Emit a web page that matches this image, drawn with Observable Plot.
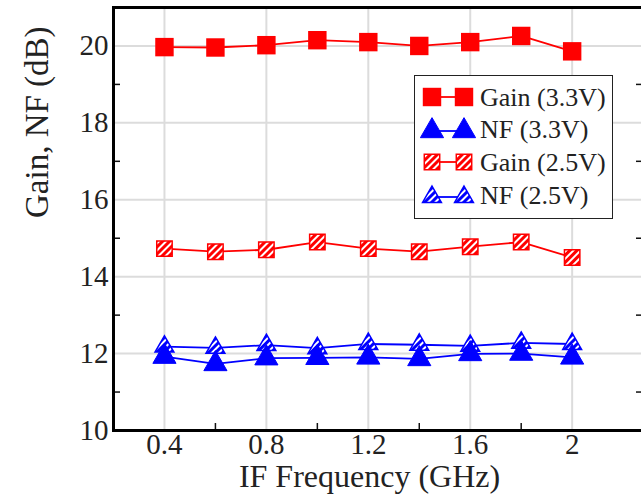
<!DOCTYPE html>
<html>
<head>
<meta charset="utf-8">
<script src="https://cdn.jsdelivr.net/npm/d3@7"></script>
<script src="https://cdn.jsdelivr.net/npm/@observablehq/plot@0.6"></script>
<style>
  html, body { margin: 0; padding: 0; background: white; }
  #wrap { position: relative; width: 641px; height: 497px; overflow: hidden; }
  #wrap svg.chart { display: block; }
  #legend { position: absolute; left: 414px; top: 75px; width: 199px; height: 144px;
            box-sizing: border-box; border: 1.5px solid #222; background: white; }
</style>
</head>
<body>
<svg width="0" height="0" style="position:absolute">
  <defs>
    <pattern id="hatchR" patternUnits="userSpaceOnUse" width="5" height="5" patternTransform="rotate(45)">
      <rect width="5" height="5" fill="#ff0000"></rect>
      <rect x="0" y="0" width="2" height="5" fill="#ffffff"></rect>
    </pattern>
    <pattern id="hatchB" patternUnits="userSpaceOnUse" width="5" height="5" patternTransform="rotate(45)">
      <rect width="5" height="5" fill="#0000ff"></rect>
      <rect x="0" y="0" width="2" height="5" fill="#ffffff"></rect>
    </pattern>
  </defs>
</svg>
<div id="wrap"></div>
<script>
// ---- data ----
const freq   = [0.4, 0.6, 0.8, 1.0, 1.2, 1.4, 1.6, 1.8, 2.0];
const gain33 = [19.97, 19.96, 20.02, 20.15, 20.10, 20.00, 20.10, 20.26, 19.86];
const nf33   = [11.92, 11.73, 11.88, 11.89, 11.90, 11.86, 11.99, 12.00, 11.90];
const gain25 = [14.73, 14.65, 14.70, 14.90, 14.73, 14.65, 14.78, 14.90, 14.50];
const nf25   = [12.18, 12.15, 12.22, 12.14, 12.25, 12.23, 12.20, 12.28, 12.25];
const seriesNames = ["Gain (3.3V)", "NF (3.3V)", "Gain (2.5V)", "NF (2.5V)"];
const xTicks = [0.4, 0.8, 1.2, 1.6, 2];
const xMinor = [0.6, 1.0, 1.4, 1.8];
const yTicks = [10, 12, 14, 16, 18, 20];
const yMinor = [11, 13, 15, 17, 19];
const xLabel = "IF Frequency (GHz)";
const yLabel = "Gain, NF (dB)";

// styles per series (draw order: hatched NF first, filled NF on top)
const series = [
  {name: seriesNames[2], values: gain25, stroke: "#ff0000", fill: "url(#hatchR)", symbol: "square",   r: 8.7, sw: 1.5},
  {name: seriesNames[0], values: gain33, stroke: "#ff0000", fill: "#ff0000",      symbol: "square",   r: 10.4, sw: 0},
  {name: seriesNames[3], values: nf25,   stroke: "#0000ff", fill: "url(#hatchB)", symbol: "triangle", r: 7.0, sw: 1.5},
  {name: seriesNames[1], values: nf33,   stroke: "#0000ff", fill: "#0000ff",      symbol: "triangle", r: 8.6, sw: 1}
];

const W = 641, H = 497, mL = 113, mR = -2, mT = 7, mB = 67;
const fw = W - mL - mR, fh = H - mT - mB, tk = 7;

const marks = [
  Plot.gridX(xTicks, {stroke: "#dcdcdc", strokeOpacity: 1, strokeWidth: 2}),
  Plot.gridY(yTicks.filter(d => d !== 10), {stroke: "#dcdcdc", strokeOpacity: 1, strokeWidth: 2}),
  Plot.tickY(yMinor, {y: d => d, stroke: "#111", strokeWidth: 1.5, insetRight: fw - tk}),
  Plot.tickY(yMinor, {y: d => d, stroke: "#111", strokeWidth: 1.5, insetLeft: fw - tk}),
  Plot.tickX(xMinor, {x: d => d, stroke: "#111", strokeWidth: 1.5, insetTop: fh - tk}),
  Plot.axisX({ticks: xTicks, tickSize: 0, tickPadding: 3, tickFormat: d => String(d), fontSize: 29, label: null}),
  Plot.axisY({ticks: yTicks, tickSize: 0, tickPadding: 5, tickFormat: d => String(d), fontSize: 29, label: null}),
  Plot.text([xLabel], {text: d => d, frameAnchor: "bottom", dy: 56, dx: -9, fontSize: 32}),
  Plot.text([yLabel], {text: d => d, frameAnchor: "left", rotate: -90, dx: -76, dy: -1, fontSize: 33})
];
for (const s of series) {
  marks.push(Plot.line(freq, {x: d => d, y: (d, i) => s.values[i], stroke: s.stroke, strokeWidth: 1.8}));
}
for (const s of series) {
  marks.push(Plot.dot(freq, {x: d => d, y: (d, i) => s.values[i], symbol: s.symbol, r: s.r,
    fill: s.fill, stroke: s.stroke, strokeWidth: s.sw}));
}
marks.push(Plot.frame({stroke: "#000", strokeWidth: 3}));

const chart = Plot.plot({
  width: W, height: H, marginLeft: mL, marginRight: mR, marginTop: mT, marginBottom: mB,
  className: "chart",
  style: {fontFamily: "'Liberation Serif', 'Times New Roman', serif", fontSize: "29px", color: "#222", background: "white", overflow: "visible", maxWidth: "none"},
  x: {domain: [0.2, 2.28], axis: null, label: null},
  y: {domain: [10, 21], axis: null, label: null},
  marks
});
chart.classList.add("chart");
const wrap = document.getElementById("wrap");
wrap.appendChild(chart);

// ---- legend (overlay inside plot area) ----
const legend = document.createElement("div");
legend.id = "legend";
wrap.appendChild(legend);
const lsvg = d3.select(legend).append("svg").attr("width", 197).attr("height", 141)
  .style("display", "block");
const legendOrder = [
  {name: seriesNames[0], s: series[1], y: 21},
  {name: seriesNames[1], s: series[3], y: 55},
  {name: seriesNames[2], s: series[0], y: 86},
  {name: seriesNames[3], s: series[2], y: 121}
];
for (const it of legendOrder) {
  const g = lsvg.append("g");
  g.append("line").attr("x1", 17).attr("x2", 49).attr("y1", it.y).attr("y2", it.y)
    .attr("stroke", it.s.stroke).attr("stroke-width", 1.8);
  const type = it.s.symbol === "square" ? d3.symbolSquare : d3.symbolTriangle;
  const path = d3.symbol(type, Math.PI * it.s.r * it.s.r)();
  for (const cx of [17, 49]) {
    g.append("path").attr("d", path).attr("transform", `translate(${cx},${it.y})`)
      .attr("fill", it.s.fill).attr("stroke", it.s.stroke).attr("stroke-width", it.s.sw);
  }
  g.append("text").attr("x", 65).attr("y", it.y + (it.s.symbol === "triangle" ? -2 : 0)).attr("dy", "0.35em")
    .attr("font-family", "'Liberation Serif', 'Times New Roman', serif").attr("font-size", 26)
    .attr("fill", "#222").text(it.name);
}
</script>
</body>
</html>
